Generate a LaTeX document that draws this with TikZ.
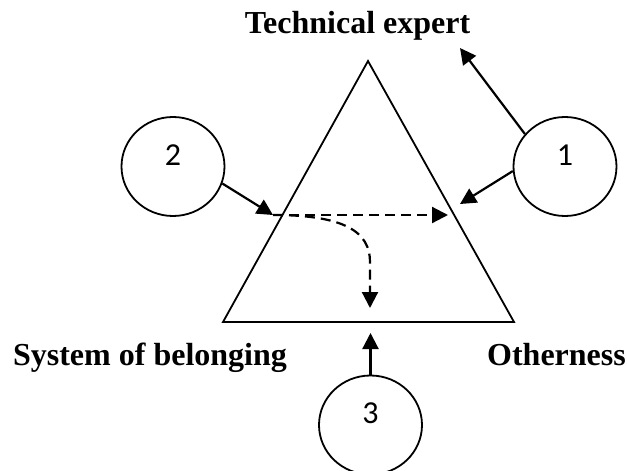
\documentclass[tikz,border=0pt]{standalone}
\usepackage{fontspec}
\setmainfont{Liberation Serif}
\newfontfamily\numfont{Carlito}
\usetikzlibrary{arrows.meta,shapes.geometric}
\begin{document}
\begin{tikzpicture}[x=0.5pt,y=-0.5pt,
  lbl/.style={font=\fontsize{16pt}{18pt}\selectfont\bfseries, anchor=base, inner sep=0pt},
  circ/.style={ellipse, draw, line width=0.9pt, minimum width=51.5pt, minimum height=49.5pt, inner sep=0pt, font=\fontsize{16pt}{18pt}\numfont\selectfont},
  arr/.style={line width=1.1pt, -{Triangle[length=8pt,width=8pt]}},
  darr/.style={arr, dash pattern=on 5pt off 3pt},
  tri/.style={draw, line width=0.9pt, line join=miter}
]
\useasboundingbox (0,0) rectangle (627,471);
% triangle
\coordinate (apex) at (368,61);
\coordinate (bl) at (223,322);
\coordinate (br) at (514,322);
\draw[tri] (apex) -- (br) -- (bl) -- cycle;
% labels
\node[lbl] (te) at (357.5,33) {Technical expert};
\node[lbl] (sb) at (150,365) {System of belonging};
\node[lbl] (ot) at (556.5,365) {Otherness};
% circles
\node[circ] (c1) at (565,166.5) {\smash{\raisebox{0.6pt}{1}}};
\node[circ] (c2) at (173,166.5) {\smash{\raisebox{0.6pt}{2}}};
\node[circ] (c3) at (370.5,425) {\smash{\raisebox{0.6pt}{3}}};
% arrow tips
\coordinate (t1a) at (460,48);
\coordinate (t1b) at (460,204);
\coordinate (t2) at (273,215);
\coordinate (th) at (448,215);
\coordinate (tv) at (370,308);
\coordinate (t3) at (370.5,333);
% arrows
\draw[arr] (c1.141) -- (t1a);
\draw[arr] (c1.185) -- (t1b);
\draw[arr] (c2.341) -- (t2);
\draw[arr] (c3.north) -- (t3);
\draw[darr] (t2) -- (th);
\draw[darr] (t2) .. controls (345,215) and (370,232) .. (370,262) -- (tv);
\end{tikzpicture}
\end{document}
